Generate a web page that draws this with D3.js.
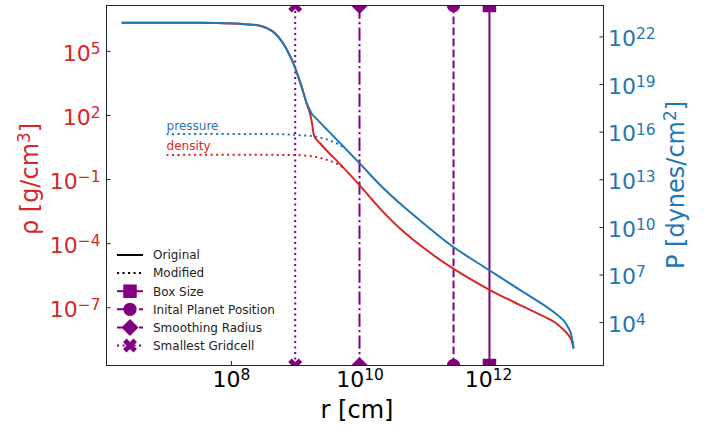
<!DOCTYPE html>
<html>
<head>
<meta charset="utf-8">
<script src="https://cdn.jsdelivr.net/npm/d3@7"></script>
<style>
  body { margin: 0; background: #fff; }
  svg { display: block; }
  text { font-family: "DejaVu Sans", "Liberation Sans", sans-serif; }
</style>
</head>
<body>
<svg id="chart" width="713" height="426"></svg>
<script>
// Radial profile of the original model
const radius = [2.0e6, 3.3e7, 9.5e7, 1.66e8, 2.82e8, 4.57e8, 6.46e8, 8.91e8, 1.05e9, 1.26e9,
  1.51e9, 1.70e9, 1.82e9, 2.0e9, 2.45e9, 3.47e9, 4.27e9, 1.0e10, 2.09e10, 4.27e10,
  1.05e11, 2.57e11, 1.0e12, 3.16e12, 8.13e12, 1.10e13, 1.48e13, 1.78e13, 1.91e13,
  2.0e13, 2.14e13];
const density = [2.07e6, 2.05e6, 1.94e6, 1.78e6, 1.51e6, 7.76e5, 2.29e5, 3.67e4, 1.04e4, 2.07e3,
  344, 117, 43.7, 9.42, 4.62, 1.49, 0.813, 0.0516, 4.14e-3, 4.84e-4,
  5.26e-5, 7.89e-6, 7.05e-7, 1.24e-7, 3.16e-8, 1.93e-8, 8.95e-9, 4.90e-9, 3.62e-9,
  2.62e-9, 1.17e-9];
const pressure = [7.24e22, 7.24e22, 6.68e22, 5.96e22, 4.79e22, 1.95e22, 3.80e21, 3.24e20, 5.89e19, 6.61e18,
  6.03e17, 2.27e17, 1.27e17, 8.59e16, 3.70e16, 8.71e15, 3.63e15, 1.04e14, 4.40e12, 3.0e11,
  1.38e10, 7.48e8, 2.08e7, 1.05e6, 9.29e4, 3.78e4, 1.33e4, 4.29e3, 2.33e3,
  1.2e3, 219];

// Modified (softened) core profile
const modRadius = [1.0e7, 5.75e8, 1.17e9, 2.0e9, 2.82e9, 3.89e9, 5.01e9, 5.89e9];
const modDensity = [1.35, 1.35, 1.31, 1.12, 0.871, 0.617, 0.427, 0.295];
const modPressure = [6.98e15, 6.98e15, 6.04e15, 5.01e15, 3.63e15, 2.29e15, 1.45e15, 8.51e14];

// Characteristic length scales
const scaleNames = ["Box Size", "Inital Planet Position", "Smoothing Radius", "Smallest Gridcell"];
const scaleRadii = [1.05e12, 2.9e11, 1.0e10, 1.0e9];

// Tick exponents
const rTickExp = [8, 10, 12];
const rhoTickExp = [5, 2, -1, -4, -7];
const pTickExp = [22, 19, 16, 13, 10, 7, 4];

const RED = "#d62728", BLUE = "#1f77b4", PURPLE = "#800080", INK = "#222";
const plot = { left: 106.5, right: 603.5, top: 5.5, bottom: 365.5 };

const svg = d3.select("#chart");

const x = d3.scaleLog().domain([10 ** 6.065, 10 ** 13.795]).range([plot.left, plot.right]);
const yRho = d3.scaleLog().domain([10 ** -9.73, 10 ** 7.125]).range([plot.bottom, plot.top]);
const yP = d3.scaleLog().domain([10 ** 1.27, 10 ** 23.95]).range([plot.bottom, plot.top]);

svg.append("clipPath").attr("id", "plotClip").append("rect")
  .attr("x", plot.left).attr("y", plot.top)
  .attr("width", plot.right - plot.left).attr("height", plot.bottom - plot.top);

const body = svg.append("g").attr("clip-path", "url(#plotClip)");

// styles for the vertical reference lines
const scaleStyles = [
  { dash: null, symbol: d3.symbolSquare, size: 182, rotate: 0 },
  { dash: "7.7,3.3", symbol: d3.symbolCircle, size: 139, rotate: 0 },
  { dash: "13.3,3.3,2.1,3.3", symbol: d3.symbolSquare, size: 144, rotate: 45 },
  { dash: "2.1,3.4", symbol: d3.symbolCross, size: 122, rotate: 45 }
];

scaleRadii.forEach((r, i) => {
  const st = scaleStyles[i];
  const xp = x(r);
  body.append("line")
    .attr("x1", xp).attr("x2", xp).attr("y1", plot.top).attr("y2", plot.bottom)
    .attr("stroke", PURPLE).attr("stroke-width", 2)
    .attr("stroke-dasharray", st.dash);
  [plot.top, plot.bottom].forEach(yy => {
    body.append("path")
      .attr("d", d3.symbol(st.symbol, st.size)())
      .attr("transform", `translate(${xp},${yy}) rotate(${st.rotate})`)
      .attr("fill", PURPLE);
  });
});

const curve = d3.curveCatmullRom.alpha(0.5);
const lineRho = d3.line().x(d => x(d[0])).y(d => yRho(d[1])).curve(curve);
const lineP = d3.line().x(d => x(d[0])).y(d => yP(d[1])).curve(curve);

const zip = (a, b) => a.map((v, i) => [v, b[i]]);

body.append("path").attr("d", lineRho(zip(radius, density)))
  .attr("fill", "none").attr("stroke", RED).attr("stroke-width", 2);
body.append("path").attr("d", lineRho(zip(modRadius, modDensity)))
  .attr("fill", "none").attr("stroke", RED).attr("stroke-width", 2).attr("stroke-dasharray", "2.1,3.4");
body.append("path").attr("d", lineP(zip(radius, pressure)))
  .attr("fill", "none").attr("stroke", BLUE).attr("stroke-width", 2);
body.append("path").attr("d", lineP(zip(modRadius, modPressure)))
  .attr("fill", "none").attr("stroke", BLUE).attr("stroke-width", 2).attr("stroke-dasharray", "2.1,3.4");

// curve annotations
svg.append("text").attr("x", x(1e7)).attr("y", 129.5).attr("fill", BLUE)
  .attr("font-size", 12).text("pressure");
svg.append("text").attr("x", x(1e7)).attr("y", 150).attr("fill", RED)
  .attr("font-size", 12).text("density");

// power-of-ten labels with a superscript exponent
function powLabel(sel) {
  sel.each(function (d) {
    const e = Math.round(Math.log10(d));
    const t = d3.select(this);
    t.text("10");
    t.append("tspan").attr("dy", "-0.45em").attr("font-size", "0.7em")
      .text(e < 0 ? "\u2212" + (-e) : String(e));
  });
}

function styleAxis(g, color) {
  g.select(".domain").remove();
  g.selectAll(".tick line").attr("stroke", INK).attr("stroke-width", 1);
  g.selectAll(".tick text").attr("fill", color).attr("font-size", 22)
    .attr("font-family", "DejaVu Sans");
}

const gx = svg.append("g").attr("transform", `translate(0,${plot.bottom})`)
  .call(d3.axisBottom(x).tickValues(rTickExp.map(e => 10 ** e))
    .tickSizeInner(-4.5).tickSizeOuter(0).tickPadding(5.6).tickFormat(() => ""));
styleAxis(gx, "#000");
gx.selectAll(".tick text").call(powLabel);

const gl = svg.append("g").attr("transform", `translate(${plot.left},0)`)
  .call(d3.axisLeft(yRho).tickValues(rhoTickExp.map(e => 10 ** e))
    .tickSizeInner(-4).tickSizeOuter(0).tickPadding(6).tickFormat(() => ""));
styleAxis(gl, RED);
gl.selectAll(".tick text").attr("dy", "0.42em").call(powLabel);

const gr = svg.append("g").attr("transform", `translate(${plot.right},0)`)
  .call(d3.axisRight(yP).tickValues(pTickExp.map(e => 10 ** e))
    .tickSizeInner(-4).tickSizeOuter(0).tickPadding(4.5).tickFormat(() => ""));
styleAxis(gr, BLUE);
gr.selectAll(".tick text").attr("dy", "0.42em").call(powLabel);

// frame
svg.append("rect").attr("x", plot.left).attr("y", plot.top)
  .attr("width", plot.right - plot.left).attr("height", plot.bottom - plot.top)
  .attr("fill", "none").attr("stroke", INK).attr("stroke-width", 1);

// axis titles
svg.append("text").attr("x", (plot.left + plot.right) / 2 + 2).attr("y", 418)
  .attr("text-anchor", "middle").attr("font-size", 24).attr("fill", "#000").text("r [cm]");

const tl = svg.append("text").attr("transform", "translate(37.5,179) rotate(-90)")
  .attr("text-anchor", "middle").attr("font-size", 24).attr("fill", RED);
tl.append("tspan").text("\u03c1 [g/cm");
tl.append("tspan").attr("dy", "-0.45em").attr("font-size", "0.7em").text("3");
tl.append("tspan").attr("dy", "0.315em").text("]");

const tr = svg.append("text").attr("transform", "translate(684,185) rotate(-90)")
  .attr("text-anchor", "middle").attr("font-size", 24).attr("fill", BLUE);
tr.append("tspan").text("P [dynes/cm");
tr.append("tspan").attr("dy", "-0.45em").attr("font-size", "0.7em").text("2");
tr.append("tspan").attr("dy", "0.315em").text("]");

// legend
const legendNames = ["Original", "Modified"].concat(scaleNames);
const legendY0 = 255, legendStep = 18.1, lx0 = 117, lx1 = 143;
const legend = svg.append("g");
legendNames.forEach((name, i) => {
  const yy = legendY0 + i * legendStep;
  const isScale = i >= 2;
  const st = isScale ? scaleStyles[i - 2] : null;
  legend.append("line").attr("x1", lx0).attr("x2", lx1).attr("y1", yy).attr("y2", yy)
    .attr("stroke", isScale ? PURPLE : "#000").attr("stroke-width", 2)
    .attr("stroke-dasharray", i === 1 ? "2.1,3.4" : (isScale ? st.dash : null));
  if (isScale) {
    legend.append("path").attr("d", d3.symbol(st.symbol, st.size)())
      .attr("transform", `translate(${(lx0 + lx1) / 2},${yy}) rotate(${st.rotate})`)
      .attr("fill", PURPLE);
  }
  legend.append("text").attr("x", 153).attr("y", yy + 4.3)
    .attr("font-size", 12).attr("fill", "#222").text(name);
});
</script>
</body>
</html>
